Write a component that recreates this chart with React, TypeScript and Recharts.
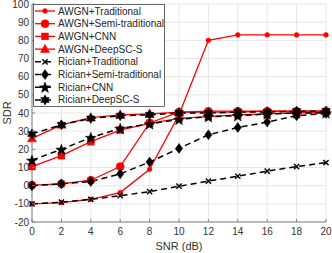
import React from 'react';
import { LineChart, Line, XAxis, YAxis, CartesianGrid, Legend } from 'recharts';

const snr = [0, 2, 4, 6, 8, 10, 12, 14, 16, 18, 20];
const awgnTraditional = [-10, -9.3, -7.5, -3.8, 9, 39, 80, 83, 83, 83, 83];
const awgnSemiTraditional = [0.3, 1, 3, 10.5, 34.5, 40.5, 41, 41, 41, 41, 41];
const awgnCNN = [10.5, 16.5, 24.2, 30.6, 34.3, 37, 38, 39, 39.5, 40, 40.5];
const awgnDeepSCS = [26, 33.5, 37.5, 39, 39.5, 40.5, 40.5, 40.5, 41, 41, 41];
const ricianTraditional = [-10, -9.1, -7.5, -5.5, -3.3, -0.3, 2.5, 5.2, 8, 10.5, 12.7];
const ricianSemiTraditional = [0, 1, 2.3, 6.5, 13, 20.5, 28, 32, 35, 38.5, 39.8];
const ricianCNN = [14, 20, 26.5, 31.5, 34, 36.5, 38, 38.5, 39.5, 40, 40];
const ricianDeepSCS = [28.5, 33.5, 37, 38.5, 39, 40, 40, 40.5, 40.5, 41, 41];

const xTicks = [0, 2, 4, 6, 8, 10, 12, 14, 16, 18, 20];
const yTicks = [-20, -10, 0, 10, 20, 30, 40, 50, 60, 70, 80, 90, 100];

const series = [
  { key: 'awgnTraditional', name: 'AWGN+Traditional', values: awgnTraditional, color: '#ff0000', dashed: false, shape: 'dot' },
  { key: 'awgnSemiTraditional', name: 'AWGN+Semi-traditional', values: awgnSemiTraditional, color: '#ff0000', dashed: false, shape: 'circle' },
  { key: 'awgnCNN', name: 'AWGN+CNN', values: awgnCNN, color: '#ff0000', dashed: false, shape: 'square' },
  { key: 'awgnDeepSCS', name: 'AWGN+DeepSC-S', values: awgnDeepSCS, color: '#ff0000', dashed: false, shape: 'triangle' },
  { key: 'ricianTraditional', name: 'Rician+Traditional', values: ricianTraditional, color: '#000000', dashed: true, shape: 'x' },
  { key: 'ricianSemiTraditional', name: 'Rician+Semi-traditional', values: ricianSemiTraditional, color: '#000000', dashed: true, shape: 'diamond' },
  { key: 'ricianCNN', name: 'Rician+CNN', values: ricianCNN, color: '#000000', dashed: true, shape: 'pentagram' },
  { key: 'ricianDeepSCS', name: 'Rician+DeepSC-S', values: ricianDeepSCS, color: '#000000', dashed: true, shape: 'hexagram' },
];

const data = snr.map((s, i) => {
  const row: any = { snr: s };
  series.forEach((se) => {
    row[se.key] = se.values[i];
  });
  return row;
});

function starPoints(n: number, ro: number, ri: number, cx: number, cy: number) {
  const pts: string[] = [];
  for (let k = 0; k < 2 * n; k++) {
    const r = k % 2 === 0 ? ro : ri;
    const a = -Math.PI / 2 + (k * Math.PI) / n;
    pts.push(`${cx + r * Math.cos(a)},${cy + r * Math.sin(a)}`);
  }
  return pts.join(' ');
}

function Marker({ shape, cx, cy, color }: { shape: string; cx: number; cy: number; color: string }) {
  if (cx == null || cy == null || isNaN(cx) || isNaN(cy)) return null;
  switch (shape) {
    case 'dot':
      return <circle cx={cx} cy={cy} r={2.4} fill={color} stroke={color} strokeWidth={0.5} />;
    case 'circle':
      return <circle cx={cx} cy={cy} r={4} fill={color} stroke={color} strokeWidth={0.5} />;
    case 'square':
      return <rect x={cx - 3.4} y={cy - 3.4} width={6.8} height={6.8} fill={color} stroke={color} strokeWidth={0.5} />;
    case 'triangle':
      return (
        <polygon
          points={`${cx},${cy - 4.8} ${cx - 4.6},${cy + 3.4} ${cx + 4.6},${cy + 3.4}`}
          fill={color}
          stroke={color}
          strokeWidth={0.5}
        />
      );
    case 'x':
      return (
        <g stroke={color} strokeWidth={1.4}>
          <line x1={cx - 2.6} y1={cy - 2.6} x2={cx + 2.6} y2={cy + 2.6} />
          <line x1={cx - 2.6} y1={cy + 2.6} x2={cx + 2.6} y2={cy - 2.6} />
        </g>
      );
    case 'diamond':
      return (
        <polygon
          points={`${cx},${cy - 5} ${cx + 3.6},${cy} ${cx},${cy + 5} ${cx - 3.6},${cy}`}
          fill={color}
          stroke={color}
          strokeWidth={0.5}
        />
      );
    case 'pentagram':
      return <polygon points={starPoints(5, 5.8, 2.4, cx, cy + 0.6)} fill={color} stroke={color} strokeWidth={0.5} />;
    case 'hexagram':
      return <polygon points={starPoints(6, 5, 2.9, cx, cy)} fill={color} stroke={color} strokeWidth={0.5} />;
    default:
      return null;
  }
}

const AXIS = '#808080';
const TEXT = '#333333';

const BottomTick = (props: any) => {
  const { x, y, payload } = props;
  return (
    <g>
      <line x1={x} x2={x} y1={y - 6} y2={y - 9} stroke={AXIS} strokeWidth={1} />
      <text x={x} y={y} dy="0.71em" textAnchor="middle" fontSize={10} fill={TEXT}>
        {payload.value}
      </text>
    </g>
  );
};

const LeftTick = (props: any) => {
  const { x, y, payload } = props;
  return (
    <g>
      <line x1={x + 3} x2={x + 6} y1={y} y2={y} stroke={AXIS} strokeWidth={1} />
      <text x={x} y={y} dy="0.35em" textAnchor="end" fontSize={10} fill={TEXT}>
        {payload.value}
      </text>
    </g>
  );
};

const RightTick = (props: any) => {
  const { x, y } = props;
  return <line x1={x} x2={x - 3} y1={y} y2={y} stroke={AXIS} strokeWidth={1} />;
};

const TopTick = (props: any) => {
  const { x, y } = props;
  return <line x1={x} x2={x} y1={y} y2={y + 3} stroke={AXIS} strokeWidth={1} />;
};

const renderLegend = () => (
  <svg width={133} height={104} style={{ display: 'block' }}>
    <rect x={0.5} y={0.5} width={131} height={102} fill="#ffffff" stroke="#444" strokeWidth={0.8} />
    {series.map((s, i) => {
      const cy = 7 + i * 12.7;
      return (
        <g key={s.key}>
          <line
            x1={2}
            x2={22}
            y1={cy}
            y2={cy}
            stroke={s.color}
            strokeWidth={s.dashed ? 1.5 : 1.3}
            strokeDasharray={s.dashed ? '6 4' : undefined}
          />
          <Marker shape={s.shape} cx={12} cy={cy} color={s.color} />
          <text x={25} y={cy} dy="0.35em" fontSize={10} fill="#262626">
            {s.name}
          </text>
        </g>
      );
    })}
  </svg>
);

export default function App() {
  return (
    <div style={{ position: 'absolute', left: 0, top: 0, fontFamily: '"Liberation Sans", Arial, sans-serif' }}>
      <LineChart width={332} height={253} data={data} margin={{ top: 4, right: 6, bottom: 0, left: 0 }}>
        <CartesianGrid stroke="#e6e6e6" strokeWidth={1} />
        <XAxis
          dataKey="snr"
          type="number"
          domain={[0, 20]}
          ticks={xTicks}
          interval={0}
          height={31}
          tickSize={0}
          tickMargin={6}
          tickLine={false}
          axisLine={{ stroke: AXIS }}
          tick={<BottomTick />}
          label={{ value: 'SNR (dB)', position: 'insideBottom', offset: 3, fontSize: 11, fill: TEXT }}
        />
        <XAxis
          xAxisId="top"
          orientation="top"
          type="number"
          dataKey="snr"
          domain={[0, 20]}
          ticks={xTicks}
          interval={0}
          height={0}
          tickSize={0}
          tickMargin={0}
          tickLine={false}
          axisLine={{ stroke: AXIS }}
          tick={<TopTick />}
        />
        <YAxis
          type="number"
          domain={[-20, 100]}
          ticks={yTicks}
          interval={0}
          width={32}
          tickSize={0}
          tickMargin={3}
          tickLine={false}
          axisLine={{ stroke: AXIS }}
          tick={<LeftTick />}
          label={{ value: 'SDR', angle: -90, position: 'center', dx: -9, fontSize: 11, fill: TEXT }}
        />
        <YAxis
          yAxisId="right"
          orientation="right"
          type="number"
          domain={[-20, 100]}
          ticks={yTicks}
          interval={0}
          width={0}
          tickSize={0}
          tickMargin={0}
          tickLine={false}
          axisLine={{ stroke: AXIS }}
          tick={<RightTick />}
        />
        {series.map((s) => (
          <Line
            key={s.key}
            dataKey={s.key}
            name={s.name}
            stroke={s.color}
            strokeWidth={s.dashed ? 1.5 : 1.3}
            strokeDasharray={s.dashed ? '6 4' : undefined}
            isAnimationActive={false}
            dot={(p: any) => <Marker key={`${s.key}-${p.index}`} shape={s.shape} cx={p.cx} cy={p.cy} color={s.color} />}
            activeDot={false}
          />
        ))}
        <Legend
          layout="vertical"
          align="center"
          verticalAlign="middle"
          content={renderLegend}
          wrapperStyle={{ left: 33, top: 4, width: 133, height: 104 }}
        />
      </LineChart>
    </div>
  );
}
